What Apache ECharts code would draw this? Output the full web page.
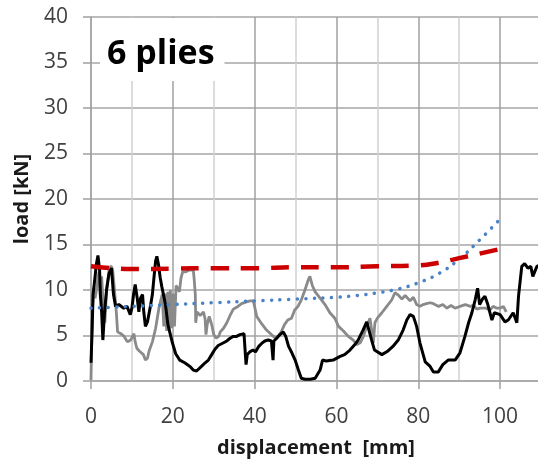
<!DOCTYPE html>
<html>
<head>
<meta charset="utf-8">
<script src="https://cdn.jsdelivr.net/npm/echarts@6/dist/echarts.min.js"></script>
<style>
  html, body { margin: 0; padding: 0; background: #fff; }
  #main { width: 538px; height: 459px; }
</style>
</head>
<body>
<div id="main"></div>
<script>
// displacement [mm] / load [kN]
var blackX = [0, 0.3, 0.5, 1.0, 1.3, 1.7, 2.1, 2.3, 2.6, 2.9, 3.3, 3.8, 4.4, 5.0, 5.5, 6.0, 6.8, 8.0, 8.8, 9.6, 10.0, 10.4, 10.8, 11.3, 11.7, 12.1, 12.6, 12.9, 13.3, 13.8, 14.6, 15.0, 15.4, 15.8, 16.1, 16.5, 16.9, 17.3, 17.6, 18.2, 18.8, 19.3, 19.9, 20.7, 21.7, 22.9, 24.2, 25.0, 25.8, 27.0, 27.9, 28.7, 29.5, 30.3, 31.1, 32.4, 33.2, 34.0, 34.8, 35.6, 36.4, 37.4, 37.7, 37.9, 38.2, 38.8, 39.6, 40.2, 41.0, 41.9, 42.5, 43.3, 44.1, 44.5, 44.7, 45.6, 46.2, 47.0, 47.6, 48.3, 49.1, 49.9, 50.7, 51.4, 52.3, 53.6, 54.8, 56.0, 56.6, 57.5, 59.2, 60.9, 62.0, 63.3, 64.5, 65.3, 66.5, 67.4, 67.8, 68.6, 69.3, 71.1, 72.6, 73.8, 75.1, 76.3, 77.2, 78.0, 78.8, 79.6, 80.4, 81.7, 82.9, 83.7, 84.9, 86.0, 87.3, 89.0, 90.2, 91.4, 92.3, 93.1, 93.9, 94.5, 95.0, 95.7, 96.3, 97.0, 98.0, 98.6, 100.0, 101.2, 102.0, 103.2, 104.1, 104.5, 105.3, 106.0, 106.8, 107.5, 108.0, 109.0, 110.0];
var blackY = [2.0, 6.0, 9.5, 11.5, 12.8, 13.8, 12.2, 9.5, 7.6, 4.5, 7.5, 10.0, 11.8, 12.4, 9.5, 8.2, 8.4, 8.0, 8.2, 7.3, 8.0, 9.5, 10.6, 9.1, 7.6, 9.1, 9.5, 7.6, 6.0, 6.5, 8.4, 9.5, 11.4, 13.2, 13.7, 12.8, 11.4, 10.4, 10.3, 8.4, 6.2, 5.3, 4.2, 3.0, 2.3, 2.0, 1.6, 1.2, 1.1, 1.6, 2.0, 2.3, 2.9, 3.5, 3.9, 4.2, 4.4, 4.7, 4.9, 4.9, 5.1, 5.2, 5.1, 1.8, 2.9, 3.2, 3.4, 3.2, 3.8, 4.2, 4.4, 4.5, 4.4, 2.3, 4.4, 4.8, 5.1, 5.4, 4.9, 3.8, 3.1, 2.3, 1.2, 0.3, 0.2, 0.2, 0.3, 1.2, 2.3, 2.2, 2.3, 2.7, 2.9, 3.4, 4.0, 4.5, 5.6, 6.5, 6.7, 4.5, 3.4, 2.9, 3.3, 3.8, 4.5, 5.6, 6.7, 7.3, 7.1, 6.0, 4.2, 2.1, 1.6, 1.0, 1.0, 1.8, 2.3, 2.3, 3.1, 4.9, 6.4, 7.5, 8.9, 10.2, 8.4, 9.0, 9.3, 8.4, 6.7, 7.5, 7.3, 6.5, 6.7, 7.5, 6.4, 9.3, 12.6, 12.9, 12.4, 12.6, 11.5, 12.6, 12.8];

var grayX = [0, 0.3, 0.7, 1.0, 1.4, 1.7, 2.0, 2.3, 2.6, 3.0, 3.4, 3.8, 4.5, 5.0, 5.3, 5.7, 6.2, 6.5, 7.3, 8.1, 8.9, 9.7, 10.5, 10.8, 11.2, 11.8, 12.3, 12.8, 13.3, 13.8, 14.2, 15.0, 15.8, 16.6, 17.4, 17.8, 18.1, 18.5, 18.8, 19.1, 19.4, 19.7, 20.0, 20.4, 20.8, 21.6, 22.0, 22.4, 23.2, 24.0, 25.0, 25.2, 25.5, 25.6, 25.9, 26.7, 27.5, 27.9, 28.1, 28.4, 28.9, 29.5, 30.0, 30.6, 31.2, 31.6, 32.4, 33.2, 34.0, 34.8, 35.6, 36.8, 38.0, 38.9, 39.7, 40.5, 41.7, 42.9, 44.1, 44.9, 45.7, 46.5, 47.3, 48.1, 49.0, 49.8, 50.6, 51.4, 52.3, 53.1, 53.5, 54.1, 54.8, 56.0, 57.2, 58.4, 59.6, 60.5, 61.7, 62.9, 64.1, 65.0, 65.8, 66.6, 67.4, 68.2, 68.6, 69.0, 69.4, 70.0, 71.1, 72.3, 73.5, 74.3, 75.2, 76.0, 76.8, 78.0, 78.8, 79.6, 80.4, 81.2, 82.0, 82.9, 83.7, 85.0, 86.0, 87.0, 88.0, 89.0, 90.2, 91.5, 92.7, 93.5, 94.3, 95.1, 96.5, 97.5, 98.3, 99.2, 100.0, 100.8, 101.5];
var grayY = [0.1, 7.6, 10.2, 9.1, 10.2, 11.4, 12.0, 9.0, 11.5, 8.2, 6.4, 10.0, 12.5, 12.6, 12.2, 10.2, 7.5, 5.4, 5.2, 4.9, 4.3, 4.5, 5.2, 4.3, 3.6, 3.3, 3.1, 2.9, 2.3, 2.5, 3.3, 4.3, 5.8, 8.0, 9.5, 6.0, 9.6, 5.5, 9.8, 5.6, 10.0, 5.8, 9.6, 6.0, 10.5, 9.8, 11.3, 12.0, 12.0, 12.2, 12.2, 11.3, 9.5, 6.4, 7.6, 7.2, 7.6, 6.8, 5.1, 6.2, 7.1, 6.2, 5.1, 4.7, 4.9, 5.4, 5.8, 6.4, 7.2, 7.9, 8.1, 8.5, 8.7, 8.8, 8.8, 7.1, 6.3, 5.6, 5.1, 4.8, 4.9, 5.4, 6.2, 6.7, 6.9, 7.8, 8.2, 8.9, 10.0, 11.1, 11.5, 10.5, 9.8, 9.1, 8.4, 7.5, 6.9, 6.0, 5.5, 4.9, 4.5, 4.0, 4.2, 4.9, 6.0, 6.9, 5.6, 4.2, 6.4, 6.9, 7.5, 8.2, 8.9, 9.7, 9.4, 9.0, 9.4, 8.8, 9.2, 8.4, 8.2, 8.4, 8.5, 8.6, 8.5, 8.2, 8.4, 8.0, 8.3, 8.0, 8.2, 8.4, 8.2, 8.3, 7.9, 8.0, 8.0, 7.8, 8.2, 8.0, 8.0, 8.2, 7.6];

var redX = [0, 5, 10, 20, 30, 40, 50, 60, 70, 80, 85, 90, 95, 100];
var redY = [12.6, 12.4, 12.3, 12.35, 12.4, 12.4, 12.5, 12.5, 12.6, 12.7, 13.0, 13.5, 14.0, 14.5];

var blueX = [0, 10, 20, 30, 40, 50, 60, 65, 70, 75, 80, 85, 90, 95, 100];
var blueY = [8.0, 8.2, 8.4, 8.6, 8.8, 9.0, 9.2, 9.4, 9.7, 10.1, 10.8, 11.8, 13.4, 15.5, 17.8];

var yTicks = [0, 40, 5];   // min, max, step
var xTicks = [0, 110, 10];

function pairs(xs, ys) {
  return xs.map(function (x, i) { return [x, ys[i]]; });
}

var chart = echarts.init(document.getElementById('main'));
var font = '"Open Sans", "Noto Sans", sans-serif';

chart.setOption({
  animation: false,
  backgroundColor: '#fff',
  title: {
    text: '6 plies',
    left: 100,
    top: 18,
    padding: [16, 10, 7, 7],
    backgroundColor: '#fff',
    textStyle: { fontFamily: font, fontSize: 34, fontWeight: 'bold', color: '#000', lineHeight: 40 }
  },
  grid: { left: 91, right: -3, top: 17, bottom: 78, outerBoundsMode: 'none' },
  xAxis: [{
    // fine grid every 10
    type: 'value', min: xTicks[0], max: xTicks[1], interval: xTicks[2],
    axisLine: { show: true, lineStyle: { color: '#a6a6a6', width: 1.5 } },
    axisTick: { show: false },
    axisLabel: { show: false },
    splitLine: { show: true, lineStyle: { color: ['#a0a0a0', '#d0d0d0'], width: 1.5 } }
  }, {
    type: 'value', min: xTicks[0], max: xTicks[1], interval: 20, position: 'bottom',
    axisLine: { show: false },
    axisTick: { show: true, length: 8, lineStyle: { color: '#a0a0a0', width: 1.5 } },
    axisLabel: {
      margin: 26, fontFamily: font, fontSize: 21, color: '#404040',
      formatter: function (v) { return v % 20 === 0 ? v : ''; }
    },
    splitLine: { show: false },
    name: 'displacement  [mm]',
    nameLocation: 'middle',
    nameGap: 57,
    nameTextStyle: { fontFamily: font, fontSize: 20, fontWeight: 'bold', color: '#1a1a1a' }
  }],
  yAxis: {
    type: 'value', min: yTicks[0], max: yTicks[1], interval: yTicks[2],
    axisLine: { show: true, lineStyle: { color: '#a6a6a6', width: 1.5 } },
    axisTick: { show: true, length: 8, lineStyle: { color: '#a0a0a0', width: 1.5 } },
    axisLabel: { margin: 23, fontFamily: font, fontSize: 21, color: '#404040' },
    splitLine: { show: true, lineStyle: { color: '#a6a6a6', width: 1.5 } },
    name: 'load [kN]',
    nameLocation: 'middle',
    nameGap: 59,
    nameTextStyle: { fontFamily: font, fontSize: 20, fontWeight: 'bold', color: '#1a1a1a' }
  },
  series: [{
    type: 'line', xAxisIndex: 0, data: pairs(grayX, grayY), showSymbol: false,
    lineStyle: { color: '#8a8a8a', width: 2.8 }
  }, {
    type: 'line', xAxisIndex: 0, data: pairs(blackX, blackY), showSymbol: false,
    lineStyle: { color: '#000', width: 3 }
  }, {
    type: 'line', xAxisIndex: 0, data: pairs(blueX, blueY), showSymbol: false, smooth: true,
    lineStyle: { color: '#4a82c8', width: 3.5, type: [0.1, 8.5], cap: 'round' }
  }, {
    type: 'line', xAxisIndex: 0, data: pairs(redX, redY), showSymbol: false, smooth: true,
    lineStyle: { color: '#cc0000', width: 4.5, type: [18, 12] }
  }]
});
</script>
</body>
</html>
